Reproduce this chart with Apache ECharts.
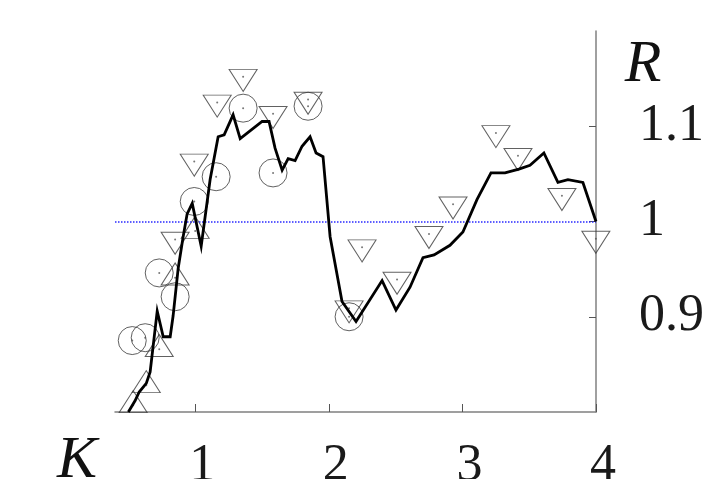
<!DOCTYPE html>
<html>
<head>
<meta charset="utf-8">
<script src="https://cdn.jsdelivr.net/npm/echarts@6/dist/echarts.min.js"></script>
<style>
html,body{margin:0;padding:0;background:#fff;}
#chart{width:712px;height:479px;}
</style>
</head>
<body>
<div id="chart"></div>
<script>
// Curve (K, R)
const lineK = [0.50,0.551,0.581,0.634,0.663,0.716,0.761,0.813,0.835,0.873,0.910,0.940,0.978,1.045,1.112,1.172,1.217,1.284,1.337,1.501,1.553,1.598,1.651,1.696,1.748,1.800,1.860,1.905,1.957,2.010,2.099,2.204,2.399,2.503,2.608,2.705,2.788,2.907,3.004,3.109,3.214,3.319,3.423,3.506,3.610,3.715,3.790,3.902,4.0];
const lineR = [0.800,0.812,0.821,0.830,0.842,0.906,0.879,0.879,0.901,0.951,0.984,1.008,1.019,0.974,1.044,1.089,1.091,1.112,1.087,1.105,1.105,1.077,1.054,1.066,1.064,1.079,1.089,1.072,1.068,0.984,0.916,0.895,0.938,0.907,0.931,0.962,0.965,0.975,0.989,1.023,1.051,1.051,1.055,1.059,1.072,1.041,1.044,1.041,1.000];
// Circles
const circK = [0.529,0.626,0.731,0.850,0.993,1.157,1.359,1.583,1.845,2.152];
const circR = [0.875,0.878,0.946,0.921,1.021,1.047,1.119,1.051,1.121,0.900];
// Down triangles
const downK = [0.850,0.993,1.165,1.359,1.583,1.845,2.152,2.249,2.511,2.750,2.930,3.251,3.416,3.745,3.999];
const downR = [0.981,1.063,1.125,1.152,1.113,1.128,0.909,0.973,0.939,0.987,1.018,1.093,1.069,1.027,0.982];
// Up triangles
const upK = [0.536,0.634,0.731,0.850,1.000];
const upR = [0.807,0.828,0.866,0.941,0.990];
// Ticks
const xTicks = [1,2,3,4];
const yTicks = [0.9,1,1.1];
const refR = 1;

const zip = (a,b) => a.map((v,i)=>[v,b[i]]);
const serif = '"Liberation Serif","Times New Roman",Tinos,serif';
const mkStroke = '#3a3a3a';

const chart = echarts.init(document.getElementById('chart'), null, {renderer:'canvas'});
const dotSeries = (data) => ({
  type:'scatter', data, symbol:'circle', symbolSize:2, clip:false, z:3,
  itemStyle:{color:'#555'}, silent:true, animation:false
});
chart.setOption({
  animation:false,
  backgroundColor:'#fff',
  grid:{left:115, right:116, top:31, bottom:67, containLabel:false, outerBoundsMode:'none'},
  xAxis:{
    type:'value', min:0.4, max:4,
    axisLine:{show:true, lineStyle:{color:'#808080', width:1.5}},
    axisTick:{show:true, inside:true, length:8, customValues:xTicks, lineStyle:{color:'#555', width:1}},
    axisLabel:{customValues:xTicks, margin:28, fontSize:52, fontFamily:serif, color:'#1a1a1a', padding:[0,0,0,14],
      formatter:(v)=>String(v)},
    splitLine:{show:false}
  },
  yAxis:{
    type:'value', position:'right', min:0.8, max:1.2, interval:0.1,
    axisLine:{show:true, onZero:false, lineStyle:{color:'#808080', width:1.5}},
    axisTick:{show:true, inside:true, length:7, customValues:yTicks, lineStyle:{color:'#555', width:1}},
    axisLabel:{customValues:yTicks, margin:43, align:'left', fontSize:52, fontFamily:serif, color:'#1a1a1a',
      formatter:(v)=> (Math.abs(v-1)<1e-9 ? '1' : v.toFixed(1))},
    splitLine:{show:false}
  },
  graphic:[
    {type:'text', x:77, y:461, style:{text:'K', font:'italic 60px '+serif, fill:'#111', textAlign:'center', textVerticalAlign:'middle'}},
    {type:'text', x:643, y:65, style:{text:'R', font:'italic 60px '+serif, fill:'#111', textAlign:'center', textVerticalAlign:'middle'}}
  ],
  series:[
    {
      type:'line', data:[], z:1,
      markLine:{silent:true, symbol:'none', label:{show:false},
        lineStyle:{color:'#2a2aff', type:'dotted', width:1.5},
        data:[{yAxis:refR}]}
    },
    {
      type:'scatter', data:zip(circK,circR), symbol:'circle', symbolSize:28, clip:false, z:2,
      itemStyle:{color:'rgba(0,0,0,0)', borderColor:mkStroke, borderWidth:1}
    },
    {
      type:'scatter', data:zip(downK,downR), symbol:'triangle', symbolSize:[28,22], symbolRotate:180,
      symbolOffset:[0,3.67], clip:false, z:2,
      itemStyle:{color:'rgba(0,0,0,0)', borderColor:mkStroke, borderWidth:1}
    },
    {
      type:'scatter', data:zip(upK,upR), symbol:'triangle', symbolSize:[28,22],
      symbolOffset:[0,-3.67], clip:false, z:2,
      itemStyle:{color:'rgba(0,0,0,0)', borderColor:mkStroke, borderWidth:1}
    },
    dotSeries(zip(circK,circR)),
    dotSeries(zip(downK,downR)),
    dotSeries(zip(upK,upR)),
    {
      type:'line', data:zip(lineK,lineR), showSymbol:false, symbol:'none', clip:false, z:5,
      lineStyle:{color:'#000', width:2.8, join:'miter'}
    }
  ]
});
</script>
</body>
</html>
